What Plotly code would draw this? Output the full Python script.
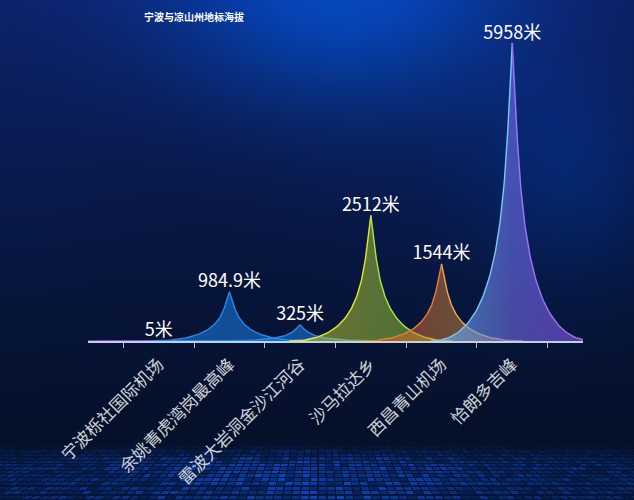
import base64
import struct
import zlib

import numpy as np
import plotly.graph_objects as go

# 地标与海拔 (米)
places = ["宁波栎社国际机场", "余姚青虎湾岗最高峰", "雷波大岩洞金沙江河谷",
          "沙马拉达乡", "西昌青山机场", "恰朗多吉峰"]
heights = [5, 984.9, 325, 2512, 1544, 5958]
value_labels = [f"{v:g}米" for v in heights]

W, H = 634, 500
MARGIN = dict(l=88, r=51, t=41, b=159)
HALF_WIDTH = 1.15  # peak base half width in category units (barCategoryGap -130%)

# fill gradient (left -> right) and stroke colours (left half, right half)
PEAK_STYLES = [
    dict(fill=["rgba(138,60,240,0.5)", "rgba(30,144,255,0.5)"], line=["#8a4cf0", "#3a8cf0"]),
    dict(fill=["rgba(30,144,255,0.5)", "rgba(30,130,240,0.5)"], line=["#1e8cf5", "#1e8cf5"]),
    dict(fill=["rgba(30,144,255,0.5)", "rgba(30,130,240,0.5)"], line=["#1e8cf5", "#1e8cf5"]),
    dict(fill=["rgba(235,220,50,0.48)", "rgba(120,200,50,0.5)"], line=["#e8e828", "#a8e83c"]),
    dict(fill=["rgba(245,70,40,0.5)", "rgba(220,130,55,0.48)", "rgba(210,190,70,0.45)"], line=["#f07a30", "#f0a840"]),
    dict(fill=["rgba(100,200,250,0.6)", "rgba(110,110,230,0.6)", "rgba(140,80,240,0.6)"], line=["#78c8f8", "#9a78f5"]),
]


def peak_outline(n=80):
    # echarts path "M0,10 L10,10 C5.5,10 5.5,5 5,0 C4.5,5 4.5,10 0,10 z" (right half, normalised)
    t = np.linspace(0, 1, n)
    p = np.array([[1, 0], [0.1, 0], [0.1, 0.5], [0, 1]])
    b = ((1 - t) ** 3)[:, None] * p[0] + (3 * (1 - t) ** 2 * t)[:, None] * p[1] \
        + (3 * (1 - t) * t ** 2)[:, None] * p[2] + (t ** 3)[:, None] * p[3]
    return b[:, 0], b[:, 1]


def png_data_uri(img):
    h, w, _ = img.shape
    raw = b"".join(b"\x00" + img[r].tobytes() for r in range(h))

    def chunk(tag, data):
        return struct.pack(">I", len(data)) + tag + data + struct.pack(">I", zlib.crc32(tag + data) & 0xffffffff)

    png = (b"\x89PNG\r\n\x1a\n"
           + chunk(b"IHDR", struct.pack(">IIBBBBB", w, h, 8, 2, 0, 0, 0))
           + chunk(b"IDAT", zlib.compress(raw, 9))
           + chunk(b"IEND", b""))
    return "data:image/png;base64," + base64.b64encode(png).decode()


def make_background():
    yy, xx = np.mgrid[0:H, 0:W].astype(float)
    top = np.array([14, 30, 96.0])
    low = np.array([5, 17, 42.0])
    t = np.clip(yy / 430, 0, 1)[..., None] ** 0.9
    img = top * (1 - t) + low * t
    # glow at top centre and right
    g = np.exp(-(((xx - 330) / 230) ** 2 + ((yy + 10) / 150) ** 2) * 1.6)[..., None]
    img += np.array([-8, 40, 90.0]) * g
    g2 = np.exp(-(((xx - 570) / 110) ** 2 + ((yy - 170) / 130) ** 2) * 1.5)[..., None]
    img += np.array([-4, 14, 36.0]) * g2
    # soft vertical bands
    bands = (0.5 + 0.5 * np.cos(xx / 70.0))[..., None]
    img += np.array([0, 4, 10.0]) * bands * (1 - t)
    # perspective floor grid
    d = np.maximum(yy - 300, 1)
    v = 8000 / d
    u = (xx - 317) * 22 / d
    iu, iv = np.floor(u), np.floor(v)
    fu, fv = u - iu, v - iv
    hsh = np.sin(iu * 12.9898 + iv * 78.233) * 43758.5453
    hsh = hsh - np.floor(hsh)
    cell = np.where((fu < 0.15) | (fv < 0.3), 0.12, 0.3 + 0.7 * hsh)
    fade = np.clip((yy - 443) / 20, 0, 1) * (0.45 + 0.45 * np.exp(-((xx - 300) / 180) ** 2))
    img += np.array([6, 60, 170.0]) * (cell * fade)[..., None]
    return np.clip(img, 0, 255).astype(np.uint8)


fig = go.Figure()

ux, uy = peak_outline()
for i, (v, style) in enumerate(zip(heights, PEAK_STYLES)):
    # both halves run from base to peak
    right_x, right_y = i + HALF_WIDTH * ux, v * uy
    left_x, left_y = i - HALF_WIDTH * ux, v * uy
    stops = np.linspace(0, 1, len(style["fill"]))
    fig.add_trace(go.Scatter(
        x=np.concatenate([left_x, right_x[::-1][1:]]),
        y=np.concatenate([left_y, right_y[::-1][1:]]),
        mode="lines", fill="toself", line=dict(width=0),
        fillgradient=dict(type="horizontal", colorscale=[[s, c] for s, c in zip(stops, style["fill"])]),
        hoverinfo="skip", showlegend=False))
    fig.add_trace(go.Scatter(x=left_x, y=left_y, mode="lines",
                             line=dict(color=style["line"][0], width=1.4),
                             hoverinfo="skip", showlegend=False))
    fig.add_trace(go.Scatter(x=right_x, y=right_y, mode="lines",
                             line=dict(color=style["line"][1], width=1.4),
                             hoverinfo="skip", showlegend=False))

fig.add_trace(go.Scatter(
    x=list(range(len(heights))), y=heights, mode="text", text=value_labels,
    textposition="top center", cliponaxis=False,
    textfont=dict(family="Noto Sans CJK SC", size=18, color="#ffffff"),
    hoverinfo="skip", showlegend=False))

plot_w = W - MARGIN["l"] - MARGIN["r"]
plot_h = H - MARGIN["t"] - MARGIN["b"]

fig.update_layout(
    width=W, height=H, margin=MARGIN,
    paper_bgcolor="#0b1846", plot_bgcolor="rgba(0,0,0,0)",
    images=[dict(source=png_data_uri(make_background()), xref="paper", yref="paper",
                 x=-MARGIN["l"] / plot_w, y=1 + MARGIN["t"] / plot_h,
                 sizex=W / plot_w, sizey=H / plot_h, sizing="stretch",
                 xanchor="left", yanchor="top", layer="below")],
    xaxis=dict(range=[-1, len(places)], tickvals=list(range(len(places))), ticktext=places,
               tickangle=-45, ticks="", showgrid=False, zeroline=False, automargin=False,
               showline=True, linecolor="#c8cedc", linewidth=1.5, layer="below traces",
               ticklabelstandoff=5,
               tickfont=dict(family="Noto Sans CJK SC", size=17, color="#cfd2d8"),
               minor=dict(tickvals=[k - 0.5 for k in range(len(places) + 1)],
                          ticks="outside", ticklen=5, tickcolor="#b8bcc6", showgrid=False),
               fixedrange=True),
    yaxis=dict(range=[0, 6000], visible=False, fixedrange=True),
    annotations=[dict(text="<b>宁波与凉山州地标海拔</b>", xref="paper", yref="paper",
                      x=(194 - MARGIN["l"]) / plot_w, y=1 + (MARGIN["t"] - 16) / plot_h,
                      xanchor="center", yanchor="middle", showarrow=False,
                      font=dict(family="Noto Sans CJK SC", size=10, color="#ffffff"))],
)

fig.write_html("out.html", config={"displayModeBar": False},
               post_script="document.body.style.margin='0';")
